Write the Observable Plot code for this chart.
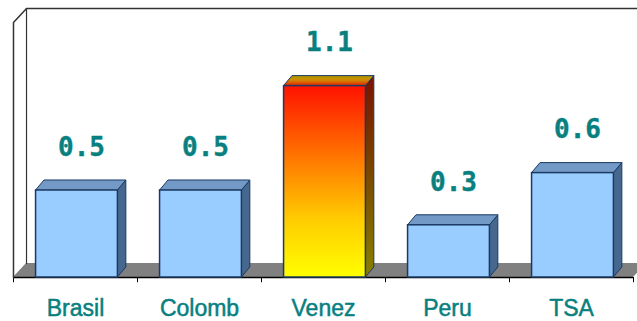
<!DOCTYPE html>
<html>
<head>
<meta charset="utf-8">
<script src="https://cdn.jsdelivr.net/npm/d3@7"></script>
<script src="https://cdn.jsdelivr.net/npm/@observablehq/plot@0.6"></script>
<style>
  html, body { margin: 0; padding: 0; background: white; }
</style>
</head>
<body>
<div id="chart"></div>
<script>
// ---- data ----
const categories = ["Brasil", "Colomb", "Venez", "Peru", "TSA"];
const values = [0.5, 0.5, 1.1, 0.3, 0.6];
const highlight = "Venez";

// ---- 3D geometry (data units) ----
const HW = 0.33, SH = 0.012;          // half bar width, slight shift
const BDX = 0.068, BDY = 0.0575;      // bar depth offset
const FDX = 0.105, FDY = 0.08;        // floor/wall depth offset
const WALL = 1.546;                   // wall top
const XMIN = -0.5, XMAX = categories.length - 0.5;

const rows = categories.map((c, i) => ({c, i, v: values[i]}));
const xl = d => d.i - HW + SH, xr = d => d.i + HW + SH;

const sidePts = rows.flatMap(d => [
  {c: d.c, x: xr(d), y1: 0, y2: d.v},
  {c: d.c, x: xr(d) + BDX, y1: BDY, y2: d.v + BDY}
]);
const topPts = rows.flatMap(d => [
  {c: d.c, y: d.v, x1: xl(d), x2: xr(d)},
  {c: d.c, y: d.v + BDY, x1: xl(d) + BDX, x2: xr(d) + BDX}
]);
const floorPts = [
  {y: 0, x1: XMIN, x2: XMAX},
  {y: FDY, x1: XMIN + FDX, x2: XMAX + FDX}
];
const outerWall = [
  {x: XMIN, y: 0}, {x: XMIN, y: WALL - FDY}, {x: XMIN + FDX, y: WALL}, {x: XMAX + 0.2, y: WALL}
];
const innerWall = [
  {x: XMIN + FDX, y: FDY}, {x: XMIN + FDX, y: WALL}
];
const tickPos = d3.range(categories.length + 1).map(k => k - 0.5);

const STROKE = "#1B3A63";
const TEAL = "#088080";

function defs() {
  const g = d3.create("svg:defs");
  const grad = (id, stops) => {
    const lg = g.append("linearGradient").attr("id", id)
      .attr("x1", 0).attr("y1", 0).attr("x2", 0).attr("y2", 1);
    stops.forEach(([o, c]) => lg.append("stop").attr("offset", o).attr("stop-color", c));
  };
  grad("gFront", [[0, "#FF1200"], [0.45, "#FF8A00"], [0.7, "#FFCC00"], [1, "#FFFF00"]]);
  grad("gSide", [[0, "#7A1200"], [0.5, "#7A4A00"], [1, "#8A8000"]]);
  grad("gTop", [[0, "#A89800"], [0.45, "#D08A00"], [0.75, "#E05000"], [1, "#E02000"]]);
  return g.node();
}

const isHi = c => c === highlight;

const chart = Plot.plot({
  width: 637,
  height: 321,
  marginLeft: 13,
  marginRight: 4,
  marginTop: 16,
  marginBottom: 44,
  x: {domain: [XMIN, XMAX], axis: null},
  y: {domain: [0, 1.5], axis: null},
  color: {type: "identity"},
  style: {background: "white", fontFamily: "Liberation Sans, Arial, sans-serif", overflow: "visible"},
  marks: [
    defs,
    // floor
    Plot.areaX(floorPts, {y: "y", x1: "x1", x2: "x2", fill: "#808080"}),
    Plot.ruleY([0], {x1: XMIN, x2: XMAX, stroke: "#000", strokeWidth: 1.5}),
    Plot.ruleX(tickPos, {y1: 0, y2: -0.03, stroke: "#000", strokeWidth: 1}),
    // walls
    Plot.line(outerWall, {x: "x", y: "y", stroke: "#333", strokeWidth: 1.5}),
    Plot.line(innerWall, {x: "x", y: "y", stroke: "#333", strokeWidth: 1.2}),
    // bar side faces
    Plot.areaY(sidePts, {x: "x", y1: "y1", y2: "y2", z: "c",
      fill: d => isHi(d.c) ? "url(#gSide)" : "#46688F", stroke: STROKE, strokeWidth: 1}),
    // bar top faces
    Plot.areaX(topPts, {y: "y", x1: "x1", x2: "x2", z: "c",
      fill: d => isHi(d.c) ? "url(#gTop)" : "#7399C6", stroke: STROKE, strokeWidth: 1}),
    // bar front faces
    Plot.rect(rows, {x1: xl, x2: xr, y1: d => 0, y2: "v",
      fill: d => isHi(d.c) ? "url(#gFront)" : "#99CCFF", stroke: STROKE, strokeWidth: 1.5}),
    // value labels
    Plot.text(rows, {x: "i", y: "v", text: d => d3.format(".1f")(d.v),
      dy: -43, dx: 6, fontFamily: "DejaVu Sans Mono", fontWeight: "bold", fontSize: 26,
      fill: TEAL, stroke: TEAL, strokeWidth: 0.4}),
    // category labels
    Plot.text(rows, {x: "i", y: d => 0, text: "c", dy: 31, fontSize: 23, letterSpacing: "-0.6px",
      fill: TEAL, stroke: TEAL, strokeWidth: 0.5})
  ]
});

document.getElementById("chart").appendChild(chart);
</script>
</body>
</html>
